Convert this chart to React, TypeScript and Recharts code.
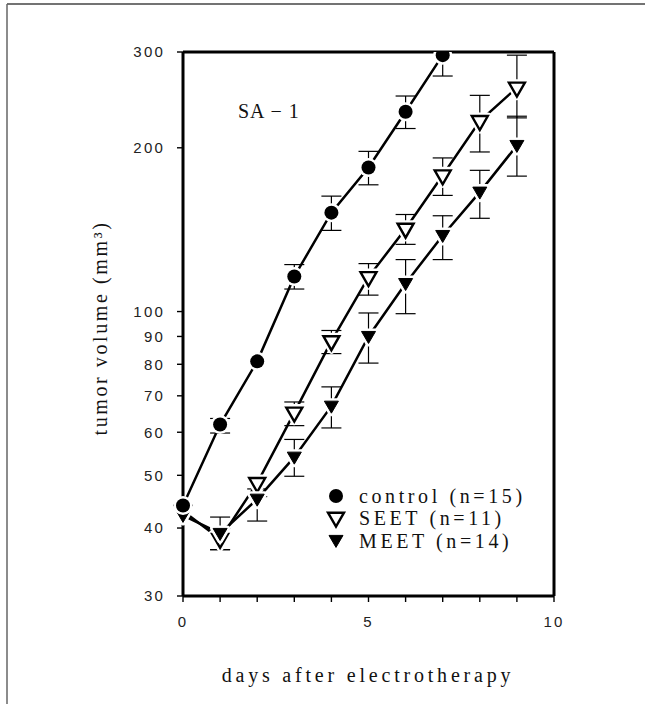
import { LineChart, Line, XAxis, YAxis, ErrorBar, ReferenceLine } from "recharts";

// days after electrotherapy
const days = [0, 1, 2, 3, 4, 5, 6, 7, 8, 9];

// mean tumor volume (mm3)
const control = [44, 62, 81, 116, 152, 184, 233, 296];
const seet = [43, 38.2, 48.4, 65.2, 88.2, 115.7, 142, 178, 224, 258];
const meet = [42.2, 39.1, 45.2, 54, 67, 90, 112.6, 138, 165.8, 202];

// error bars as [below, above]; null where none is drawn
const controlErr = [null, [2.2, 1.6], null, [6, 6], [11, 11], [13, 13], [16, 16], [25, 4]];
const seetErr = [null, [1.7, 1.7], [1.2, 1.2], [3.5, 3], [4.5, 4.1], [8.5, 6.8], [9.1, 8.8], [14.5, 13.6], [27.5, 25.7], [31, 38]];
const meetErr = [null, [2.6, 2.8], [4, 0.5], [4.2, 4.2], [5.9, 5.7], [9.6, 9.4], [13.5, 12], [13.4, 12], [17.4, 16], [24.6, 26.6]];

const yTicks = [30, 40, 50, 60, 70, 80, 90, 100, 200, 300];
const xTicks = [0, 1, 2, 3, 4, 5, 6, 7, 8, 9, 10];
const xLabelled = [0, 5, 10];

const legendItems = [
  { name: "control (n=15)", shape: "circle" },
  { name: "SEET (n=11)", shape: "open" },
  { name: "MEET (n=14)", shape: "filled" },
];

const data = days.map((d, i) => ({
  day: d,
  control: control[i],
  controlErr: controlErr[i],
  seet: seet[i],
  seetErr: seetErr[i],
  meet: meet[i],
  meetErr: meetErr[i],
}));

const serif = "'Liberation Serif', 'DejaVu Serif', serif";
const sans = "'Liberation Sans', Arial, sans-serif";

function Marker({ shape, cx, cy }: { shape: string; cx: number; cy: number }) {
  if (shape === "circle") {
    return (
      <g>
        <circle cx={cx} cy={cy} r={9.5} fill="#fff" />
        <circle cx={cx} cy={cy} r={7} fill="#000" />
      </g>
    );
  }
  if (shape === "open") {
    const pts = `${cx - 8},${cy - 5} ${cx + 8},${cy - 5} ${cx},${cy + 9}`;
    return (
      <g>
        <polygon points={pts} fill="#fff" stroke="#fff" strokeWidth={7} strokeLinejoin="round" />
        <polygon points={pts} fill="#fff" stroke="#000" strokeWidth={2.4} strokeLinejoin="miter" />
      </g>
    );
  }
  const pts = `${cx - 7},${cy - 5} ${cx + 7},${cy - 5} ${cx},${cy + 7}`;
  return (
    <g>
      <polygon points={pts} fill="#fff" stroke="#fff" strokeWidth={6} strokeLinejoin="round" />
      <polygon points={pts} fill="#000" stroke="#000" strokeWidth={1} />
    </g>
  );
}

const dotFor = (shape: string) => (props: any) => {
  const { cx, cy, index } = props;
  if (cx == null || cy == null || Number.isNaN(cy)) return <g key={`${shape}-${index}`} />;
  return (
    <g key={`${shape}-${index}`}>
      <Marker shape={shape} cx={cx} cy={cy} />
    </g>
  );
};

const tickStyle = { fill: "#222", fontSize: 15, fontFamily: sans, letterSpacing: 2.2 };
const titleStyle = { fontFamily: serif, fontSize: 20, fill: "#111" };

export default function App() {
  return (
    <div style={{ position: "absolute", left: 0, top: 0, width: 645, height: 704, background: "#fff" }}>
      <LineChart
        width={645}
        height={704}
        data={data}
        margin={{ top: 52, right: 91, bottom: 78, left: 123 }}
      >
        <XAxis
          dataKey="day"
          type="number"
          domain={[0, 10]}
          ticks={xTicks}
          tickFormatter={(v) => (xLabelled.includes(v) ? String(v) : "")}
          height={30}
          tickSize={6}
          tickMargin={14}
          axisLine={{ stroke: "#000", strokeWidth: 3 }}
          tickLine={{ stroke: "#000", strokeWidth: 1.4 }}
          tick={tickStyle}
        />
        <YAxis
          type="number"
          scale="log"
          domain={[30, 300]}
          ticks={yTicks}
          allowDataOverflow
          width={60}
          tickSize={6}
          tickMargin={12}
          interval={0}
          axisLine={{ stroke: "#000", strokeWidth: 3 }}
          tickLine={{ stroke: "#000", strokeWidth: 1.4 }}
          tick={tickStyle}
        />
        <ReferenceLine y={300} stroke="#000" strokeWidth={3} />
        <ReferenceLine x={10} stroke="#000" strokeWidth={3} />

        {/* error bars first, so the markers sit on top of them */}
        <Line dataKey="control" stroke="none" dot={false} activeDot={false} legendType="none" isAnimationActive={false}>
          <ErrorBar dataKey="controlErr" width={10} stroke="#000" strokeWidth={1.2} direction="y" />
        </Line>
        <Line dataKey="seet" stroke="none" dot={false} activeDot={false} legendType="none" isAnimationActive={false}>
          <ErrorBar dataKey="seetErr" width={10} stroke="#000" strokeWidth={1.2} direction="y" />
        </Line>
        <Line dataKey="meet" stroke="none" dot={false} activeDot={false} legendType="none" isAnimationActive={false}>
          <ErrorBar dataKey="meetErr" width={10} stroke="#000" strokeWidth={1.2} direction="y" />
        </Line>

        <Line
          dataKey="seet"
          stroke="#000"
          strokeWidth={2.5}
          dot={dotFor("open")}
          activeDot={false}
          isAnimationActive={false}
        />
        <Line
          dataKey="meet"
          stroke="#000"
          strokeWidth={2.5}
          dot={dotFor("filled")}
          activeDot={false}
          isAnimationActive={false}
        />
        <Line
          dataKey="control"
          stroke="#000"
          strokeWidth={2.5}
          dot={dotFor("circle")}
          activeDot={false}
          isAnimationActive={false}
        />
      </LineChart>

      <svg
        width={645}
        height={704}
        style={{ position: "absolute", left: 0, top: 0, pointerEvents: "none" }}
      >
        {/* figure frame */}
        <line x1={7} y1={4} x2={645} y2={4} stroke="#444" strokeWidth={1.5} />
        <line x1={7} y1={4} x2={7} y2={704} stroke="#666" strokeWidth={1.5} />

        <text x={238} y={118} fontFamily={serif} fontSize={20} letterSpacing={1} fill="#111">
          SA − 1
        </text>

        {legendItems.map((item, i) => {
          const y = 496 + i * 22.7;
          return (
            <g key={item.name}>
              <Marker shape={item.shape} cx={336} cy={item.shape === "circle" ? y : y - 1} />
              <text x={359} y={y + 6.5} {...titleStyle} letterSpacing={3.6}>
                {item.name}
              </text>
            </g>
          );
        })}

        <text x={368} y={682} textAnchor="middle" {...titleStyle} letterSpacing={3.8}>
          days after electrotherapy
        </text>
        <text
          transform="translate(107, 328) rotate(-90)"
          textAnchor="middle"
          {...titleStyle}
          letterSpacing={2.6}
        >
          tumor volume (mm³)
        </text>
      </svg>
    </div>
  );
}
